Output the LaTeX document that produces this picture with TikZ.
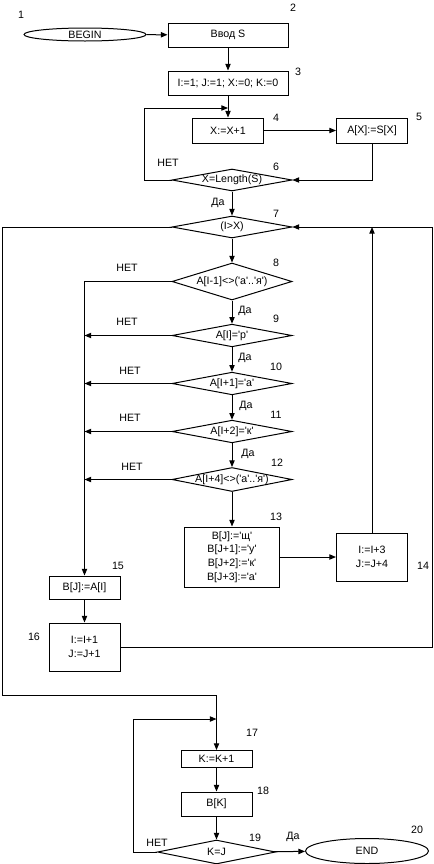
\documentclass[tikz,border=0pt]{standalone}
\usepackage{fontspec}
\setmainfont{Liberation Sans}
\usetikzlibrary{shapes.geometric,arrows.meta}
\newcommand\ap{\textquotesingle}

\begin{document}
\begin{tikzpicture}[
  x=0.75pt, y=-0.75pt, line width=0.75pt,
  every node/.style={font=\fontsize{8}{10.3}\selectfont},
  block/.style={draw, rectangle, align=center, inner sep=1pt,
                minimum width=53.25pt, minimum height=18pt},
  cond/.style={draw, diamond, aspect=5, inner xsep=-6pt, inner ysep=-2pt,
               minimum width=90pt, minimum height=17pt},
  term/.style={draw, ellipse, inner sep=0pt, minimum width=91.5pt},
  lbl/.style={inner sep=0pt},
  arrow/.style={-{Triangle[length=5pt,width=4pt]}},
]
\useasboundingbox (0,0) rectangle (433,864);

% Top part: input and copy loop
\node[term, minimum height=9.75pt] (start) at (85,34.5) {BEGIN};
\node[block, minimum width=90pt] (input) at (228,35) {Ввод S};
\draw[arrow] (start) -- (input);

\node[block, minimum width=90pt] (init) at (228,83) {I:=1; J:=1; X:=0; K:=0};
\draw[arrow] (input) -- (init);

\node[block, minimum height=18.75pt] (inc_x) at (228,130.5) {X:=X+1};
\node[block, minimum height=18.75pt] (copy_a) at (372,130.5) {A[X]:=S[X]};
\draw[arrow] (init) -- (inc_x);
\draw[arrow] (inc_x) -- (copy_a);

\node[cond, minimum height=16.5pt] (len_chk) at (232,180) {X=Length(S)};
\draw[arrow] (copy_a.south) |- (len_chk.east);

% back to X:=X+1
\coordinate (loop_x) at (144,108);
\coordinate (join_x) at (228,108);
\draw[arrow] (len_chk.west) -| (loop_x) -- (join_x);

% Main scan loop
\node[cond, minimum height=16.5pt] (cmp_ix) at (232,227) {(I>X)};
\draw[arrow] (len_chk) -- (cmp_ix);

\node[cond, minimum height=27.75pt] (chk_prev) at (232,281.5) {A[I-1]<>(\ap а\ap..\ap я\ap)};
\node[cond] (chk_r) at (232,335.5) {A[I]=\ap р\ap};
\node[cond] (chk_a) at (232,383.5) {A[I+1]=\ap а\ap};
\node[cond] (chk_k) at (232,431.5) {A[I+2]=\ap к\ap};
\node[cond, minimum height=18pt] (chk_next) at (232,479.5) {A[I+4]<>(\ap а\ap..\ap я\ap)};
\draw[arrow] (cmp_ix) -- (chk_prev);
\draw[arrow] (chk_prev) -- (chk_r);
\draw[arrow] (chk_r) -- (chk_a);
\draw[arrow] (chk_a) -- (chk_k);
\draw[arrow] (chk_k) -- (chk_next);

\node[block, minimum width=71.25pt, minimum height=45pt] (put_w) at (232,557)
  {B[J]:=\ap щ\ap\\B[J+1]:=\ap у\ap\\B[J+2]:=\ap к\ap\\B[J+3]:=\ap а\ap};
\draw[arrow] (chk_next) -- (put_w);

\node[block, minimum height=36pt] (shift_w) at (372,557) {I:=I+3\\J:=J+4};
\draw[arrow] (put_w) -- (shift_w);
\draw[arrow] (shift_w.north) -- (shift_w.north |- cmp_ix.east);

\node[block, minimum height=17.25pt] (put_c) at (84.5,587.5) {B[J]:=A[I]};
\node[block, minimum height=36pt] (inc_ij) at (84.5,647) {I:=I+1\\J:=J+1};
\draw[arrow] (chk_prev.west) -| (put_c.north);
\draw[arrow] (chk_r.west) -- (chk_r.west -| put_c.north);
\draw[arrow] (chk_a.west) -- (chk_a.west -| put_c.north);
\draw[arrow] (chk_k.west) -- (chk_k.west -| put_c.north);
\draw[arrow] (chk_next.west) -- (chk_next.west -| put_c.north);
\draw[arrow] (put_c) -- (inc_ij);

\coordinate (rgt) at (432,227);
\draw[arrow] (inc_ij.east) -| (rgt) -- (cmp_ix.east);

% Output part
\node[block, minimum height=12.75pt] (inc_k) at (216.5,759) {K:=K+1};
\node[block] (out_k) at (216.5,804) {B[K]};
\node[cond, minimum width=88.5pt, minimum height=18pt] (k_eq_j) at (216.5,852) {K=J};
\node[term, minimum width=92.25pt, minimum height=18.75pt] (stop) at (367,851) {END};

\coordinate (lft) at (2,695);
\draw[arrow] (cmp_ix.west) -| (lft) -| (inc_k.north);
\draw[arrow] (inc_k) -- (out_k);
\draw[arrow] (out_k) -- (k_eq_j);
\draw[arrow] (k_eq_j) -- (stop);

\coordinate (loop_k) at (133,719);
\coordinate (join_k) at (216.5,719);
\draw[arrow] (k_eq_j.west) -| (loop_k) -- (join_k);

% Branch labels
\node[lbl] (no6) at (168,163) {НЕТ};
\node[lbl] (yes6) at (218,203) {Да};
\node[lbl] (no8) at (127,268) {НЕТ};
\node[lbl] (yes8) at (245,311) {Да};
\node[lbl] (no9) at (127,322) {НЕТ};
\node[lbl] (yes9) at (245,358) {Да};
\node[lbl] (no10) at (130,371) {НЕТ};
\node[lbl] (yes10) at (246,406) {Да};
\node[lbl] (no11) at (130,418) {НЕТ};
\node[lbl] (yes11) at (248,454) {Да};
\node[lbl] (no12) at (132,467) {НЕТ};
\node[lbl] (no19) at (157,843) {НЕТ};
\node[lbl] (yes19) at (293,837) {Да};

% Block numbers
\foreach \n/\x/\y in {1/21/15, 2/293/8, 3/298/72, 4/276/118, 5/419/117,
    6/276/167, 7/276/214, 8/276/263, 9/276/319, 10/276/367, 11/276/415,
    12/277/463, 13/276/517, 14/423/566, 15/118/566, 16/34/637,
    17/252/733, 18/263/791, 19/255/838, 20/417/830}
  \node[lbl] (num\n) at (\x,\y) {\n};

\end{tikzpicture}
\end{document}
